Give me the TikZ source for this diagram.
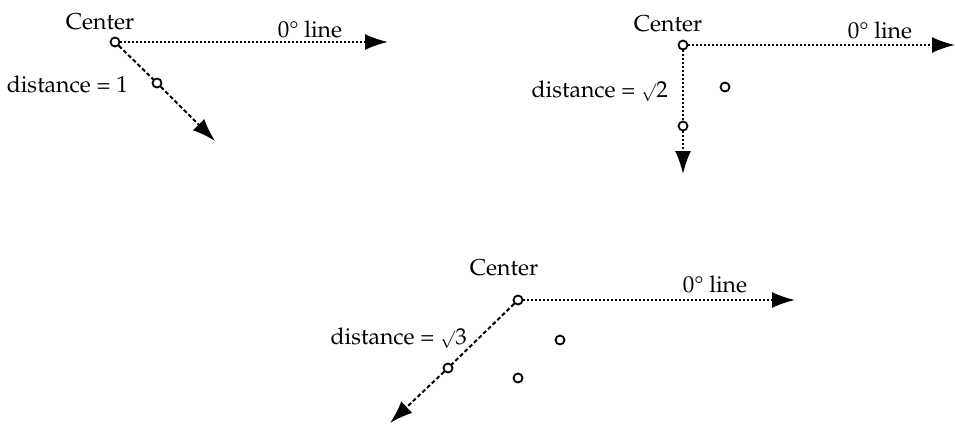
\documentclass[tikz,border=0pt]{standalone}
\usepackage[T1]{fontenc}
\usepackage{mathpazo}
\usetikzlibrary{arrows.meta}
\newcommand{\mysurd}{\raisebox{0.5pt}{\fontsize{17}{18}\selectfont$\surd$}}
\tikzset{
  pt/.style={circle,draw,line width=1.8pt,minimum size=9pt,inner sep=0pt},
  lbl/.style={inner sep=0pt,font=\fontsize{23}{27}\selectfont},
  dotline/.style={line width=2pt,dash pattern=on 2pt off 2pt},
  dashline/.style={line width=2pt,dash pattern=on 4pt off 2.5pt},
  tip/.style={-{Latex[length=23pt,width=16pt]}}
}
\begin{document}
\begin{tikzpicture}[x=1pt,y=-1pt]
\useasboundingbox (0,0) rectangle (955,424);
% panel 1
\node[pt] (c1) at (115,42) {};
\node[pt] (m1) at (157,83) {};
\coordinate (h1) at (388,42);
\coordinate (e1) at (215,141);
\node[lbl,anchor=base] (t1) at (100,29) {Center};
\node[lbl,anchor=base] (z1) at (310,37) {0\textdegree{} line};
\node[lbl,anchor=base east] (d1) at (128,92) {distance = 1};
\draw[dotline,tip] (c1) -- (h1);
\draw[dashline] (c1) -- (m1);
\draw[dashline,tip] (m1) -- (e1);
% panel 2
\node[pt] (c2) at (683,45) {};
\node[pt] (m2) at (683,126) {};
\node[pt] (q2) at (725,87) {};
\coordinate (h2) at (955,45);
\coordinate (e2) at (683,174);
\node[lbl,anchor=base] (t2) at (668,31) {Center};
\node[lbl,anchor=base] (z2) at (880,38) {0\textdegree{} line};
\node[lbl,anchor=base east] (d2) at (668,97) {distance = \mysurd2};
\draw[dotline,tip] (c2) -- (h2);
\draw[dotline] (c2) -- (m2);
\draw[dotline,tip] (m2) -- (e2);
% panel 3
\node[pt] (c3) at (518,300) {};
\node[pt] (m3) at (448,368) {};
\node[pt] (q3) at (560,340) {};
\node[pt] (r3) at (518,378) {};
\coordinate (h3) at (795,300);
\coordinate (e3) at (390,423);
\node[lbl,anchor=base] (t3) at (504,275) {Center};
\node[lbl,anchor=base] (z3) at (715,292) {0\textdegree{} line};
\node[lbl,anchor=base east] (d3) at (467,344) {distance = \mysurd3};
\draw[dotline,tip] (c3) -- (h3);
\draw[dashline] (c3) -- (m3);
\draw[dashline,tip] (m3) -- (e3);
\end{tikzpicture}
\end{document}
